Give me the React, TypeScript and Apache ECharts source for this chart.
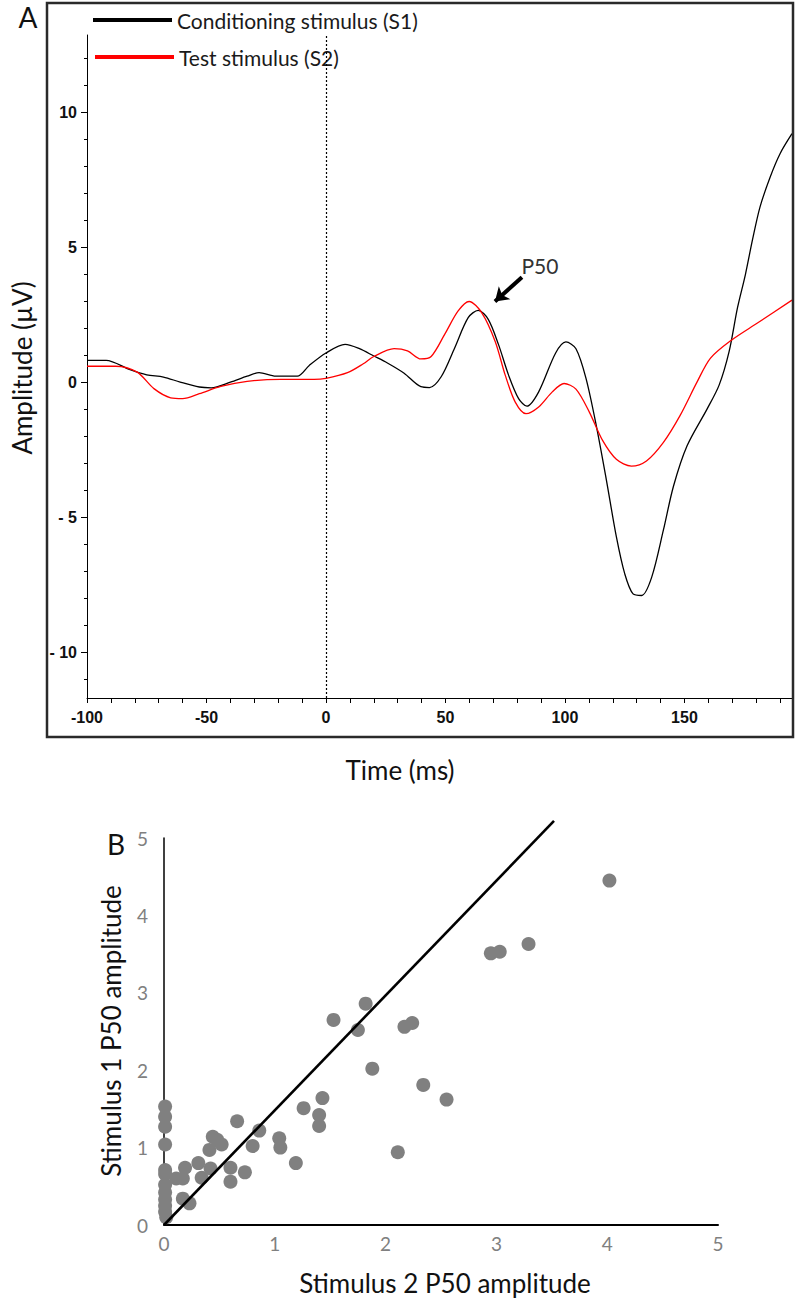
import React, { useEffect, useRef } from "react";
import * as echarts from "echarts";

// Panel A: evoked potentials (time in ms, amplitude in µV)
const s1Name = "Conditioning stimulus (S1)";
const s2Name = "Test stimulus (S2)";

const s1Points: [number, number][] = [
  [-100, 0.82], [-92, 0.82], [-82, 0.47], [-75, 0.28], [-68, 0.2], [-61, 0.01],
  [-53, -0.17], [-48, -0.2], [-40, 0.01], [-33, 0.23], [-28, 0.36], [-21, 0.23],
  [-12, 0.23], [-7, 0.63], [0, 1.09], [8, 1.41], [14, 1.25], [20, 0.98], [25.7, 0.72],
  [32.7, 0.34], [39.7, -0.16], [43.3, -0.19], [48.2, 0.21], [53.8, 1.27], [59.5, 2.4],
  [63.7, 2.67], [67.9, 2.34], [72.2, 1.4], [76.4, 0.27], [80.6, -0.6], [84.1, -0.88],
  [89, -0.35], [96.1, 1.09], [100.4, 1.5], [104.6, 1.25], [108.8, 0.15], [113.1, -1.6],
  [117.3, -3.6], [121.5, -5.72], [125, -7.09], [128.5, -7.84], [132.1, -7.9],
  [136.3, -7.22], [141.2, -5.47], [145.4, -3.85], [151.1, -2.35], [159.5, -0.98],
  [164.5, -0.1], [168.7, 1.15], [172.2, 2.77], [175.5, 4.0], [178.5, 5.3],
  [181.6, 6.5], [185.8, 7.6], [190, 8.48], [195, 9.22],
];

const s2Points: [number, number][] = [
  [-100, 0.6], [-88, 0.6], [-79, 0.38], [-72, -0.23], [-65, -0.57], [-60, -0.6],
  [-53, -0.42], [-44, -0.15], [-33, 0.04], [-19, 0.11], [-5, 0.11], [0, 0.15],
  [9, 0.36], [15.6, 0.69], [20, 0.96], [28.5, 1.25], [34.1, 1.17], [39.7, 0.87],
  [44, 0.96], [49.6, 1.77], [55.3, 2.65], [59.9, 3.0], [65.2, 2.58], [70.8, 1.52],
  [75, 0.27], [79.2, -0.73], [83.7, -1.16], [89, -0.91], [94.7, -0.35], [99.6, -0.04],
  [104.6, -0.25], [110.2, -1.1], [115.8, -2.16], [121.5, -2.85], [127.8, -3.1],
  [134.1, -2.91], [141.2, -2.22], [148.2, -1.22], [155.3, 0.02], [160.9, 0.9],
  [169.4, 1.55], [180.7, 2.21], [195, 3.05],
];

const timeLabels = [-100, -50, 0, 50, 100, 150];
const timeTicks = [
  -100, -90, -80, -70, -60, -50, -40, -30, -20, -10, 0, 10, 20, 30, 40, 50, 60, 70,
  80, 90, 100, 110, 120, 130, 140, 150, 160, 170, 180, 190,
];
const ampLabels = [-10, -5, 0, 5, 10];
const ampMinorTicks = [
  -11, -10, -9, -8, -7, -6, -5, -4, -3, -2, -1, 0, 1, 2, 3, 4, 5, 6, 7, 8, 9, 10, 11, 12,
];
const p50ArrowFrom: [number, number] = [82, 3.9];
const p50ArrowTo: [number, number] = [70.7, 3.0];
const p50LabelAt: [number, number] = [89.5, 4.34];

// Panel B: Stimulus 2 P50 amplitude (x) vs Stimulus 1 P50 amplitude (y)
const scatterPoints: [number, number][] = [
  [0.01, 1.53], [0.01, 1.4], [0.01, 1.27], [0.01, 1.04], [0.01, 0.71], [0.01, 0.66],
  [0.01, 0.52], [0.01, 0.42], [0.01, 0.33], [0.01, 0.25], [0.01, 0.17], [0.02, 0.1],
  [0.11, 0.6], [0.17, 0.6], [0.19, 0.74], [0.31, 0.8], [0.34, 0.61], [0.17, 0.34],
  [0.23, 0.28], [0.42, 0.73], [0.41, 0.97], [0.44, 1.14], [0.48, 1.1], [0.52, 1.04],
  [0.66, 1.34], [0.6, 0.74], [0.6, 0.56], [0.73, 0.68], [0.8, 1.02], [0.86, 1.22],
  [1.04, 1.12], [1.05, 1.0], [1.19, 0.8], [1.26, 1.51], [1.4, 1.42], [1.4, 1.28],
  [1.43, 1.64], [2.11, 0.94], [1.53, 2.65], [1.75, 2.52], [1.82, 2.86], [1.88, 2.02],
  [2.17, 2.56], [2.24, 2.61], [2.34, 1.81], [2.55, 1.62], [2.95, 3.51], [3.03, 3.53],
  [3.29, 3.63], [4.02, 4.45],
];
const referenceLine: [number, number][] = [[0, 0], [3.52, 5.22]];
const ampTicksB = [0, 1, 2, 3, 4, 5];

const sans = 'Lato, "Open Sans", sans-serif';
const arial = '"Liberation Sans", Arial, sans-serif';

export default function App() {
  const ref = useRef<HTMLDivElement>(null);

  useEffect(() => {
    if (!ref.current) return;
    const chart = echarts.init(ref.current, undefined, { renderer: "svg" });

    const legendText = { fontFamily: sans, fontSize: 21, color: "#1a1a1a", lineHeight: 24 };
    const center = { align: "center", verticalAlign: "middle", textAlign: "center", textVerticalAlign: "middle" };
    const gridA = { left: 87, top: 35, width: 705, height: 663 };

    const option: any = {
      animation: false,
      backgroundColor: "#ffffff",
      textStyle: { fontFamily: sans },
      grid: [
        gridA,
        { left: 164, top: 838, width: 554, height: 387 },
        { ...gridA }, // overlay grid carrying the minor amplitude ticks
      ],
      legend: [
        {
          data: [s1Name], left: 93, top: 8, padding: 0, icon: "rect",
          itemWidth: 79, itemHeight: 4, selectedMode: false, textStyle: legendText,
        },
        {
          data: [s2Name], left: 95, top: 45, padding: 0, icon: "rect",
          itemWidth: 79, itemHeight: 4, selectedMode: false, textStyle: legendText,
        },
      ],
      xAxis: [
        {
          gridIndex: 0, type: "value", min: -100, max: 195, position: "bottom",
          axisLine: { show: true, onZero: false, lineStyle: { color: "#000", width: 1 } },
          axisTick: { show: true, customValues: timeTicks, length: 5, lineStyle: { color: "#000" } },
          axisLabel: {
            customValues: timeLabels, margin: 11, fontFamily: arial, fontWeight: "bold",
            fontSize: 16, color: "#111",
          },
          splitLine: { show: false },
        },
        {
          gridIndex: 1, type: "value", min: 0, max: 5, interval: 1, position: "bottom",
          axisLine: { show: true, onZero: false, lineStyle: { color: "#000", width: 2 } },
          axisTick: { show: false },
          axisLabel: { margin: 9, fontSize: 19, color: "#808080", fontFamily: sans },
          splitLine: { show: false },
        },
        {
          gridIndex: 2, type: "value", min: -100, max: 195, show: false,
          axisLine: { show: false, onZero: false },
          splitLine: { show: false },
        },
      ],
      yAxis: [
        {
          gridIndex: 0, type: "value", min: -11.7, max: 12.88, position: "left",
          axisLine: { show: true, onZero: false, lineStyle: { color: "#000", width: 1 } },
          axisTick: { show: true, customValues: ampLabels, length: 6, lineStyle: { color: "#000" } },
          axisLabel: {
            customValues: ampLabels, margin: 10, fontFamily: arial, fontWeight: "bold",
            fontSize: 16, color: "#111",
            formatter: (v: number) => (v < 0 ? "- " + Math.abs(v) : String(v)),
          },
          splitLine: { show: false },
        },
        {
          gridIndex: 2, type: "value", min: -11.7, max: 12.88, position: "left",
          axisLine: { show: false, onZero: false },
          axisTick: { show: true, customValues: ampMinorTicks, length: 3, lineStyle: { color: "#000" } },
          axisLabel: { show: false },
          splitLine: { show: false },
        },
        {
          gridIndex: 1, type: "value", min: 0, max: 5, interval: 1, position: "left",
          axisLine: { show: true, onZero: false, lineStyle: { color: "#000", width: 1.5 } },
          axisTick: { show: false },
          axisLabel: {
            margin: 16, fontSize: 19, color: "#808080", fontFamily: sans,
            customValues: ampTicksB,
          },
          splitLine: { show: false },
        },
      ],
      series: [
        {
          name: s1Name, type: "line", xAxisIndex: 0, yAxisIndex: 0, data: s1Points,
          showSymbol: false, symbol: "none", smooth: 0.3,
          lineStyle: { color: "#000", width: 1.3 }, itemStyle: { color: "#000" },
          markLine: {
            silent: true, symbol: ["none", "none"], label: { show: false },
            lineStyle: { color: "#000", type: [2, 2], width: 1.2 },
            data: [{ xAxis: 0 }],
          },
        },
        {
          name: s2Name, type: "line", xAxisIndex: 0, yAxisIndex: 0, data: s2Points,
          showSymbol: false, symbol: "none", smooth: 0.3,
          lineStyle: { color: "#ff0000", width: 1.3 }, itemStyle: { color: "#ff0000" },
          markLine: {
            silent: true, symbol: ["none", "arrow"], symbolSize: 13, label: { show: false },
            lineStyle: { color: "#000", type: "solid", width: 4 },
            data: [[{ coord: p50ArrowFrom }, { coord: p50ArrowTo }]],
          },
          markPoint: {
            silent: true,
            data: [
              {
                coord: p50LabelAt, symbol: "circle", symbolSize: 0,
                label: {
                  show: true, position: "inside", formatter: "P50", fontSize: 21,
                  color: "#333", fontFamily: sans,
                },
              },
            ],
          },
        },
        {
          name: "identity", type: "line", xAxisIndex: 1, yAxisIndex: 2, data: referenceLine,
          showSymbol: false, symbol: "none", clip: false,
          lineStyle: { color: "#000", width: 2.6 },
        },
        {
          name: "P50 amplitudes", type: "scatter", xAxisIndex: 1, yAxisIndex: 2,
          data: scatterPoints, symbolSize: 14, clip: false,
          itemStyle: { color: "#808080", opacity: 1 },
        },
      ],
      graphic: [
        {
          type: "rect", silent: true, z: 100,
          shape: { x: 47, y: 3, width: 746, height: 734 },
          style: { fill: "none", stroke: "#2a2a2a", lineWidth: 2.5 },
        },
        {
          type: "text", x: 28, y: 17,
          style: { text: "A", fontSize: 28, fontFamily: sans, fill: "#111", ...center },
        },
        {
          type: "text", x: 400, y: 770,
          style: { text: "Time (ms)", fontSize: 26, fontFamily: sans, fill: "#111", ...center },
        },
        {
          type: "text", x: 22, y: 368, rotation: Math.PI / 2,
          style: { text: "Amplitude (µV)", fontSize: 26, fontFamily: sans, fill: "#111", ...center },
        },
        {
          type: "text", x: 116, y: 844,
          style: { text: "B", fontSize: 28, fontFamily: sans, fill: "#111", ...center },
        },
        {
          type: "text", x: 445, y: 1283,
          style: { text: "Stimulus 2 P50 amplitude", fontSize: 26, fontFamily: sans, fill: "#111", ...center },
        },
        {
          type: "text", x: 111, y: 1031, rotation: Math.PI / 2,
          style: { text: "Stimulus 1 P50 amplitude", fontSize: 26, fontFamily: sans, fill: "#111", ...center },
        },
      ],
    };

    chart.setOption(option);
    return () => chart.dispose();
  }, []);

  return (
    <div
      ref={ref}
      style={{ position: "absolute", left: 0, top: 0, width: 795, height: 1299, background: "#fff" }}
    />
  );
}
